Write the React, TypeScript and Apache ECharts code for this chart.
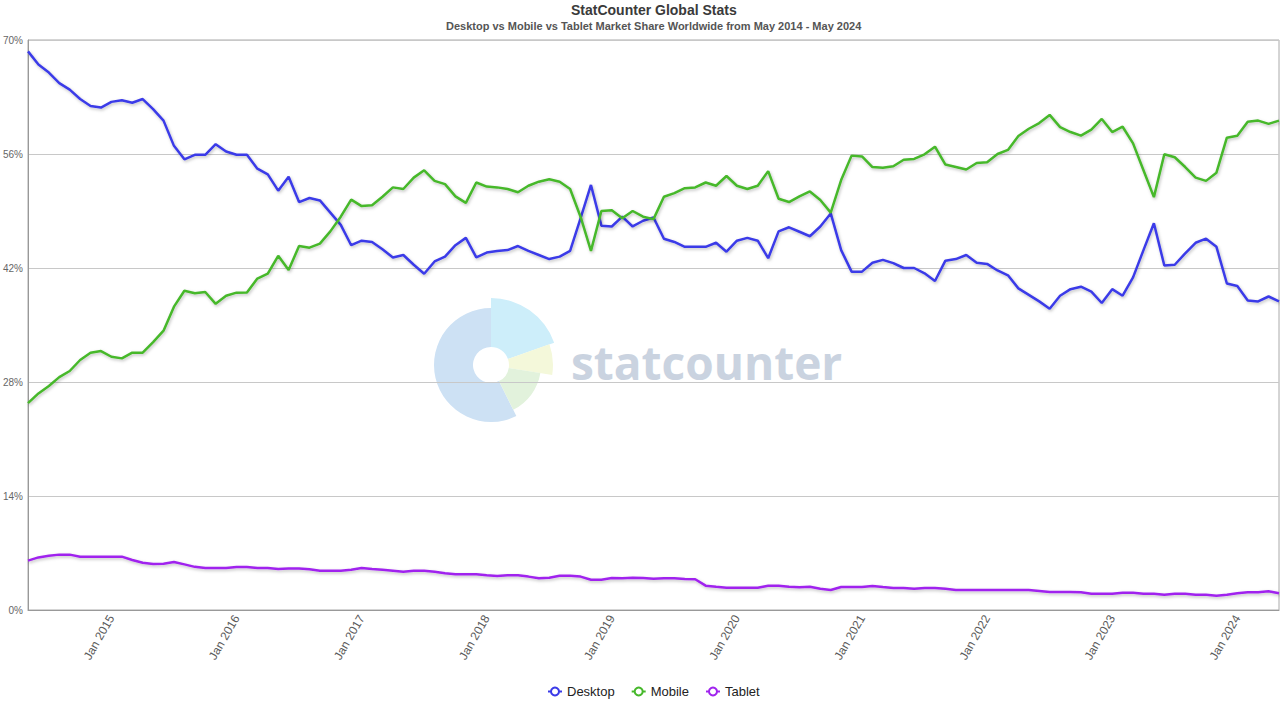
import React, { useEffect, useRef } from "react";
import * as echarts from "echarts";

const monthNames = ["Jan", "Feb", "Mar", "Apr", "May", "Jun", "Jul", "Aug", "Sep", "Oct", "Nov", "Dec"];
// May 2014 .. May 2024 (121 months)
const categories: string[] = [];
for (let i = 0; i < 121; i++) {
  const m = (4 + i) % 12;
  const y = 2014 + Math.floor((4 + i) / 12);
  categories.push(`${monthNames[m]} ${y}`);
}

const yTicks = [0, 14, 28, 42, 56, 70];

const desktop = [
  68.6, 67.0, 66.0, 64.7, 63.9, 62.75, 61.9, 61.7, 62.4, 62.6,
  62.3, 62.75, 61.5, 60.1, 57.0, 55.35, 55.9, 55.9, 57.2, 56.3,
  55.9, 55.9, 54.2, 53.5, 51.5, 53.2, 50.1, 50.6, 50.3, 48.8,
  47.3, 44.8, 45.35, 45.2, 44.3, 43.3, 43.6, 42.4, 41.3, 42.8,
  43.4, 44.8, 45.7, 43.3, 43.9, 44.1, 44.2, 44.7, 44.1, 43.6,
  43.1, 43.4, 44.1, 48.1, 52.2, 47.2, 47.1, 48.3, 47.1, 47.8,
  48.2, 45.6, 45.2, 44.6, 44.6, 44.6, 45.1, 44.0, 45.35, 45.7,
  45.35, 43.2, 46.5, 47.0, 46.45, 45.9, 47.1, 48.7, 44.2, 41.55,
  41.55, 42.65, 43.0, 42.6, 42.0, 42.0, 41.35, 40.4, 42.9, 43.1,
  43.6, 42.65, 42.5, 41.7, 41.1, 39.5, 38.7, 37.9, 37.0, 38.6,
  39.4, 39.7, 39.1, 37.7, 39.4, 38.6, 40.85, 44.2, 47.5, 42.3,
  42.4, 43.8, 45.1, 45.6, 44.6, 40.1, 39.8, 38.0, 37.9, 38.5,
  37.9,
];

const mobile = [
  25.4, 26.6, 27.5, 28.6, 29.35, 30.7, 31.6, 31.8, 31.1, 30.9,
  31.6, 31.6, 32.9, 34.3, 37.25, 39.2, 38.9, 39.05, 37.6, 38.6,
  38.97, 39.0, 40.7, 41.3, 43.5, 41.75, 44.7, 44.5, 45.0, 46.5,
  48.3, 50.4, 49.6, 49.7, 50.75, 51.9, 51.7, 53.1, 54.0, 52.7,
  52.3, 50.8, 50.0, 52.5, 52.0, 51.9, 51.7, 51.3, 52.1, 52.6,
  52.9, 52.6, 51.7, 48.3, 44.1, 49.0, 49.1, 48.1, 49.0, 48.3,
  48.0, 50.75, 51.2, 51.8, 51.9, 52.5, 52.1, 53.3, 52.1, 51.7,
  52.1, 53.9, 50.5, 50.1, 50.8, 51.4, 50.35, 48.8, 52.8, 55.8,
  55.7, 54.4, 54.3, 54.5, 55.3, 55.4, 55.96, 56.9, 54.7, 54.4,
  54.1, 54.9, 55.0, 56.0, 56.5, 58.2, 59.1, 59.8, 60.8, 59.3,
  58.7, 58.25, 59.0, 60.3, 58.7, 59.35, 57.3, 54.0, 50.7, 55.96,
  55.6, 54.4, 53.1, 52.7, 53.7, 58.0, 58.25, 59.97, 60.1, 59.7,
  60.1,
];

const tablet = [
  6.06, 6.46, 6.67, 6.8, 6.8, 6.55, 6.55, 6.55, 6.55, 6.55,
  6.14, 5.8, 5.65, 5.69, 5.9, 5.6, 5.3, 5.15, 5.15, 5.15,
  5.28, 5.28, 5.15, 5.15, 5.03, 5.1, 5.1, 5.0, 4.83, 4.83,
  4.83, 4.95, 5.15, 5.03, 4.95, 4.83, 4.7, 4.83, 4.83, 4.7,
  4.5, 4.38, 4.38, 4.38, 4.26, 4.17, 4.26, 4.26, 4.1, 3.9,
  3.97, 4.2, 4.2, 4.1, 3.72, 3.72, 3.93, 3.9, 3.97, 3.93,
  3.85, 3.9, 3.9, 3.8, 3.77, 2.99, 2.86, 2.74, 2.74, 2.74,
  2.74, 2.99, 2.99, 2.86, 2.78, 2.86, 2.62, 2.45, 2.82, 2.82,
  2.82, 2.95, 2.82, 2.7, 2.7, 2.62, 2.7, 2.7, 2.62, 2.45,
  2.45, 2.45, 2.45, 2.45, 2.45, 2.45, 2.45, 2.33, 2.2, 2.2,
  2.2, 2.17, 2.0, 2.0, 2.0, 2.13, 2.13, 2.0, 2.0, 1.88,
  2.0, 2.0, 1.88, 1.88, 1.76, 1.88, 2.05, 2.17, 2.17, 2.29,
  2.05,
];

const seriesNames = ["Desktop", "Mobile", "Tablet"];
const seriesColors = ["#3b3be8", "#46b82b", "#a024ee"];

const deg = (d: number) => (d * Math.PI) / 180;

export default function App() {
  const ref = useRef<HTMLDivElement>(null);

  useEffect(() => {
    document.body.style.margin = "0";
    if (!ref.current) return;
    const chart = echarts.init(ref.current, undefined, { renderer: "svg" });
    const font = "Liberation Sans";
    const data = [desktop, mobile, tablet];
    const cx = 491;
    const cy = 365;

    chart.setOption({
      animation: false,
      backgroundColor: "#ffffff",
      title: [
        {
          text: "StatCounter Global Stats",
          left: 571,
          top: 3,
          padding: 0,
          textStyle: { fontSize: 14, fontWeight: "bold", color: "#3a3a3a", fontFamily: font },
        },
        {
          text: "Desktop vs Mobile vs Tablet Market Share Worldwide from May 2014 - May 2024",
          left: 446,
          top: 20,
          padding: 0,
          textStyle: { fontSize: 11, fontWeight: "bold", color: "#555555", fontFamily: font },
        },
      ],
      legend: {
        data: seriesNames,
        left: 547,
        top: 685,
        padding: 0,
        itemWidth: 14,
        itemHeight: 10,
        itemGap: 16,
        textStyle: { fontSize: 13, color: "#222222", fontFamily: font },
      },
      grid: {
        left: 28,
        right: 1,
        top: 40,
        bottom: 110,
        show: true,
        borderColor: "#aaaaaa",
        borderWidth: 1,
      },
      xAxis: {
        type: "category",
        data: categories,
        boundaryGap: false,
        axisLine: { show: true, lineStyle: { color: "#999999" } },
        axisTick: { show: false },
        splitLine: { show: false },
        axisLabel: {
          rotate: 60,
          interval: (index: number, value: string) => value.startsWith("Jan"),
          fontSize: 12,
          color: "#5a5a5a",
          fontFamily: font,
          margin: 6,
        },
      },
      yAxis: {
        type: "value",
        min: yTicks[0],
        max: yTicks[yTicks.length - 1],
        interval: 14,
        axisLine: { show: true, lineStyle: { color: "#999999" } },
        axisTick: { show: false },
        splitLine: { show: true, lineStyle: { color: "#c8c8c8", width: 1 } },
        axisLabel: {
          formatter: "{value}%",
          fontSize: 10,
          color: "#666666",
          fontFamily: font,
          margin: 5,
        },
      },
      graphic: [
        {
          type: "group",
          z: -10,
          silent: true,
          children: [
            {
              type: "sector",
              z: -10,
              shape: { cx, cy, r0: 18, r: 57, startAngle: deg(63.6), endAngle: deg(270), clockwise: true },
              style: { fill: "#cde1f4" },
            },
            {
              type: "sector",
              z: -10,
              shape: { cx, cy, r0: 18, r: 67, startAngle: deg(-90), endAngle: deg(-19.5), clockwise: true },
              style: { fill: "#cdeefa" },
            },
            {
              type: "sector",
              z: -10,
              shape: { cx, cy, r0: 18, r: 62, startAngle: deg(-19.5), endAngle: deg(9.2), clockwise: true },
              style: { fill: "#f4f8da" },
            },
            {
              type: "sector",
              z: -10,
              shape: { cx, cy, r0: 18, r: 50, startAngle: deg(9.2), endAngle: deg(63.6), clockwise: true },
              style: { fill: "#e2f2dc" },
            },
            {
              type: "text",
              z: -10,
              x: 571,
              y: 362,
              style: {
                text: "statcounter",
                font: 'bold 46px "Open Sans"',
                fill: "#cad3e0",
                textVerticalAlign: "middle",
                textAlign: "left",
              },
            },
          ],
        },
      ],
      series: seriesNames.map((name, k) => ({
        name,
        type: "line",
        data: data[k],
        symbol: "emptyCircle",
        symbolSize: 7,
        showSymbol: false,
        z: 3,
        itemStyle: { color: seriesColors[k] },
        lineStyle: {
          width: 2.5,
          color: seriesColors[k],
          shadowColor: "rgba(0,0,0,0.25)",
          shadowBlur: 3,
          shadowOffsetX: 1,
          shadowOffsetY: 1.5,
        },
      })),
    });

    return () => chart.dispose();
  }, []);

  return <div ref={ref} style={{ width: 1280, height: 720 }} />;
}
